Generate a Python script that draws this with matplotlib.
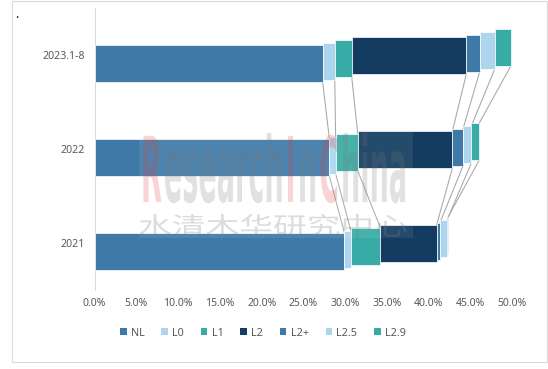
import matplotlib
matplotlib.use('Agg')
import matplotlib.pyplot as plt
import numpy as np
from matplotlib.patches import Rectangle, Patch
from matplotlib.patheffects import AbstractPathEffect
from matplotlib.transforms import Affine2D, IdentityTransform

plt.rcParams['font.family'] = ['Noto Sans', 'DejaVu Sans']

# ---------------- data ----------------
categories = ['2021', '2022', '2023.1-8']
series = ['NL', 'L0', 'L1', 'L2', 'L2+', 'L2.5', 'L2.9']
nl_vals = [29.9, 28.1, 27.3]
l0_vals = [0.77, 0.74, 1.44]
l1_vals = [3.54, 2.65, 2.03]
l2_vals = [6.70, 11.32, 13.70]
l2p_vals = [0.42, 1.28, 1.61]
l25_vals = [0.85, 0.99, 1.80]
l29_vals = [0.10, 0.93, 1.90]
x_ticks = [0, 5, 10, 15, 20, 25, 30, 35, 40, 45, 50]
x_tick_labels = ['0.0%', '5.0%', '10.0%', '15.0%', '20.0%', '25.0%',
                 '30.0%', '35.0%', '40.0%', '45.0%', '50.0%']

colors = ['#3e79a7', '#aed5ee', '#38aba6', '#133c60', '#3e79a7', '#aed5ee', '#38aba6']
text_color = '#595959'

W, H = 548, 369
fig = plt.figure(figsize=(W / 100, H / 100), dpi=100)


def fx(x):
    return x / W


def fy(y):
    return 1 - y / H


ax = fig.add_axes([fx(94.5), fy(290), fx(512.5) - fx(94.5), fy(8) - fy(290)])

vals = np.array([nl_vals, l0_vals, l1_vals, l2_vals, l2p_vals, l25_vals, l29_vals])
lefts = np.vstack([np.zeros(len(categories)), np.cumsum(vals, axis=0)[:-1]])
ends = lefts + vals
ypos = np.arange(len(categories))
px_per_unit = 94.0
bh = 37 / px_per_unit
offs = [(-8.8 + 2.67 * i) / px_per_unit for i in range(len(series))]

for i in range(len(series)):
    ax.barh(ypos + offs[i], vals[i], left=lefts[i], height=bh, color=colors[i],
            edgecolor='white', linewidth=0.5, zorder=3)

# series lines
for i in range(len(series)):
    for c in range(len(categories) - 1):
        ax.plot([ends[i][c + 1], ends[i][c]],
                [ypos[c + 1] + offs[i] - bh / 2, ypos[c] + offs[i] + bh / 2],
                color='#a6a6a6', lw=0.75, zorder=2)

ax.set_xlim(0, 50)
ax.set_ylim(-0.5, 2.5)
ax.set_xticks(x_ticks)
ax.set_xticklabels(x_tick_labels)
ax.set_yticks(ypos)
ax.set_yticklabels(categories)
ax.tick_params(axis='x', length=0, pad=6, labelsize=7.5, labelcolor=text_color)
ax.tick_params(axis='y', length=0, pad=7, labelsize=7.6, labelcolor=text_color)
for s in ['top', 'right', 'bottom']:
    ax.spines[s].set_visible(False)
ax.spines['left'].set_color('#d9d9d9')
ax.spines['left'].set_linewidth(0.75)

handles = [Patch(facecolor=c, edgecolor='none') for c in colors]
fig.legend(handles, series, loc='center', bbox_to_anchor=(fx(263), fy(333)), ncol=7,
           frameon=False, fontsize=7.8, handlelength=0.6, handleheight=0.6,
           handletextpad=0.4, columnspacing=1.55, labelcolor=text_color)

# outer frame
fig.add_artist(Rectangle((fx(11.5), fy(361.5)), fx(547) - fx(11.5), fy(1) - fy(361.5),
                         transform=fig.transFigure, fill=False, edgecolor='#d9d9d9', lw=0.75))
fig.text(fx(15.5), fy(18), '.', fontsize=9, color='black', fontweight='bold')


# ---------------- watermark ----------------
class Stretch(AbstractPathEffect):
    def __init__(self, sx=1.0, sy=1.0):
        super().__init__()
        self.sx, self.sy = sx, sy

    def draw_path(self, renderer, gc, tpath, affine, rgbFace=None):
        renderer.draw_path(gc, tpath, Affine2D().scale(self.sx, self.sy) + affine, rgbFace)


fig.add_artist(Rectangle((fx(139), fy(238)), fx(413) - fx(139), fy(131) - fy(238),
                         transform=fig.transFigure, facecolor='white', alpha=0.08,
                         edgecolor='none', zorder=4))

renderer = fig.canvas.get_renderer()
pieces = [('R', '#e03c3c'), ('esearch', '#777777'), ('I', '#e03c3c'),
          ('n', '#777777'), ('C', '#e03c3c'), ('hina', '#777777')]
xcur = 141.0
base = H - 202.0
for txt, col in pieces:
    t = fig.text(xcur, base, txt, transform=IdentityTransform(), fontsize=19.5,
                 fontweight='bold', family='DejaVu Sans', color=col,
                 alpha=0.22, ha='left', va='baseline', zorder=5,
                 path_effects=[Stretch(1.0, 3.35)])
    bb = t.get_window_extent(renderer=renderer)
    xcur = bb.x1 + 2.0

fig.text(138, H - 235.0, '水清木华研究中心', transform=IdentityTransform(),
         fontsize=18, family=['Noto Sans CJK SC', 'DejaVu Sans'], color='#808080',
         alpha=0.27, ha='left', va='baseline', zorder=5,
         path_effects=[Stretch(1.35, 1.0)])

fig.savefig('out.png', dpi=100)
